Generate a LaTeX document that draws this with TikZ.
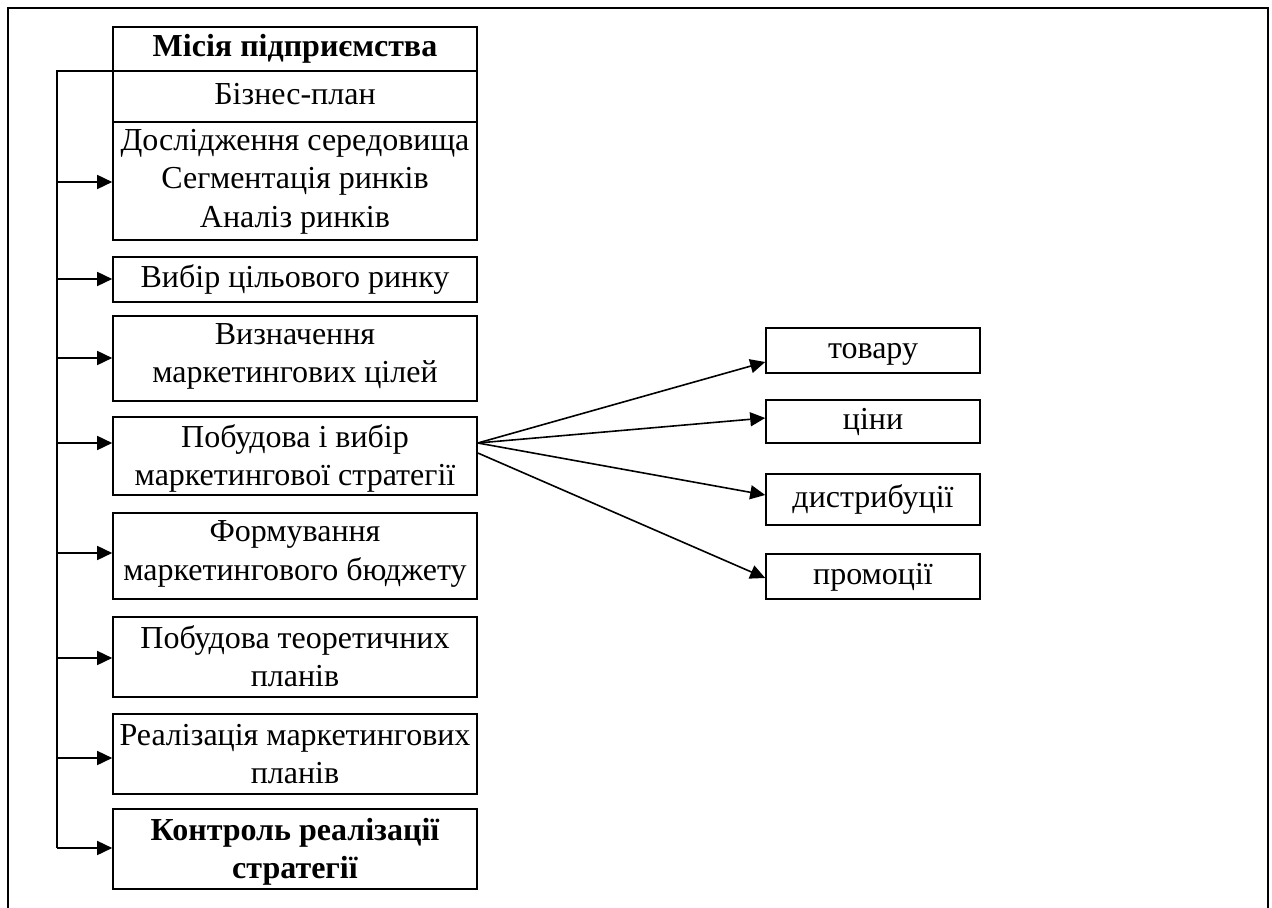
\documentclass[tikz,border=0pt]{standalone}
\usepackage{fontspec}
\setmainfont{Liberation Serif}
\usetikzlibrary{arrows.meta,calc}
\newcommand\hiS{\rule{0pt}{11pt}}
\newcommand\loS{\rule{0pt}{14.5pt}}
\newcommand\loE{\rule[-4.25pt]{0pt}{4.25pt}}
\begin{document}
\begin{tikzpicture}[x=0.5pt,y=-0.5pt,
  txt/.style={font=\fontsize{16}{19.25}\selectfont},
  lbox/.style={draw,line width=0.8pt,minimum width=182pt,inner sep=0pt,align=center,txt},
  rbox/.style={draw,line width=0.8pt,minimum width=107pt,inner sep=0pt,align=center,txt},
  boldtxt/.style={font=\fontsize{16}{19.25}\selectfont\bfseries},
  arr/.style={line width=0.8pt,-{Triangle[length=7.5pt,width=7pt]}},
  bus/.style={line width=0.8pt}]
\useasboundingbox (0,0) rectangle (1272,908);
% outer frame (open at the bottom)
\draw[line width=1pt] (8,908) -- (8,8.5) -- (1268,8.5) -- (1268,908);
% left column
\node[lbox,boldtxt,minimum height=22pt] (n1) at (295,49) {\strut Місія підприємства};
\node[lbox,minimum height=25.5pt] (n2) at (295,96.5) {\strut Бізнес-план};
\node[lbox,minimum height=59pt] (n3) at (295,181) {\strut Дослідження середовища\\Сегментація ринків\\Аналіз ринків\strut};
\node[lbox,minimum height=22.5pt] (n4) at (295,279.5) {\strut Вибір цільового ринку};
\node[lbox,minimum height=42.5pt] (n5) at (295,358.5) {\hiS Визначення\\маркетингових цілей\strut};
\node[lbox,minimum height=39pt] (n6) at (295,456) {\loS Побудова і вибір\\маркетингової стратегії\loE};
\node[lbox,minimum height=43pt] (n7) at (295,556) {\hiS Формування\\маркетингового бюджету\strut};
\node[lbox,minimum height=40pt] (n8) at (295,657) {\loS Побудова теоретичних\\планів\loE};
\node[lbox,minimum height=40pt] (n9) at (295,754) {\loS Реалізація маркетингових\\планів\loE};
\node[lbox,boldtxt,minimum height=40pt] (n10) at (295,849) {\loS Контроль реалізації\\стратегії\loE};
% right column
\node[rbox,minimum height=22.5pt] (r1) at (873,350.5) {\strut товару};
\node[rbox,minimum height=21.5pt] (r2) at (873,421.5) {\strut ціни};
\node[rbox,minimum height=25.5pt] (r3) at (873,499.5) {\strut дистрибуції};
\node[rbox,minimum height=22.5pt] (r4) at (873,576.5) {\strut промоції};
% bus
\coordinate (top) at (57,71);
\coordinate (b3) at (57,182);
\coordinate (b4) at (57,279);
\coordinate (b5) at (57,358);
\coordinate (b6) at (57,443);
\coordinate (b7) at (57,553);
\coordinate (b8) at (57,658);
\coordinate (b9) at (57,758);
\coordinate (b10) at (57,848);
\draw[bus] (top -| n1.west) -- (top) -- (b10);
\foreach \i in {3,...,10}{
  \draw[arr] (b\i) -- (b\i -| n\i.west);
}
% strategy arrows
\coordinate (s1) at ($(n6.east)+(0,-13)$);
\coordinate (s2) at ($(n6.east)+(0,-3)$);
\draw[arr] (s1) -- ($(r1.west)+(0,11.5)$);
\draw[arr] (s1) -- ($(r2.west)+(0,-3.5)$);
\draw[arr] (s1) -- ($(r3.west)+(0,-4.5)$);
\draw[arr] (s2) -- ($(r4.west)+(0,1.5)$);
\end{tikzpicture}
\end{document}
